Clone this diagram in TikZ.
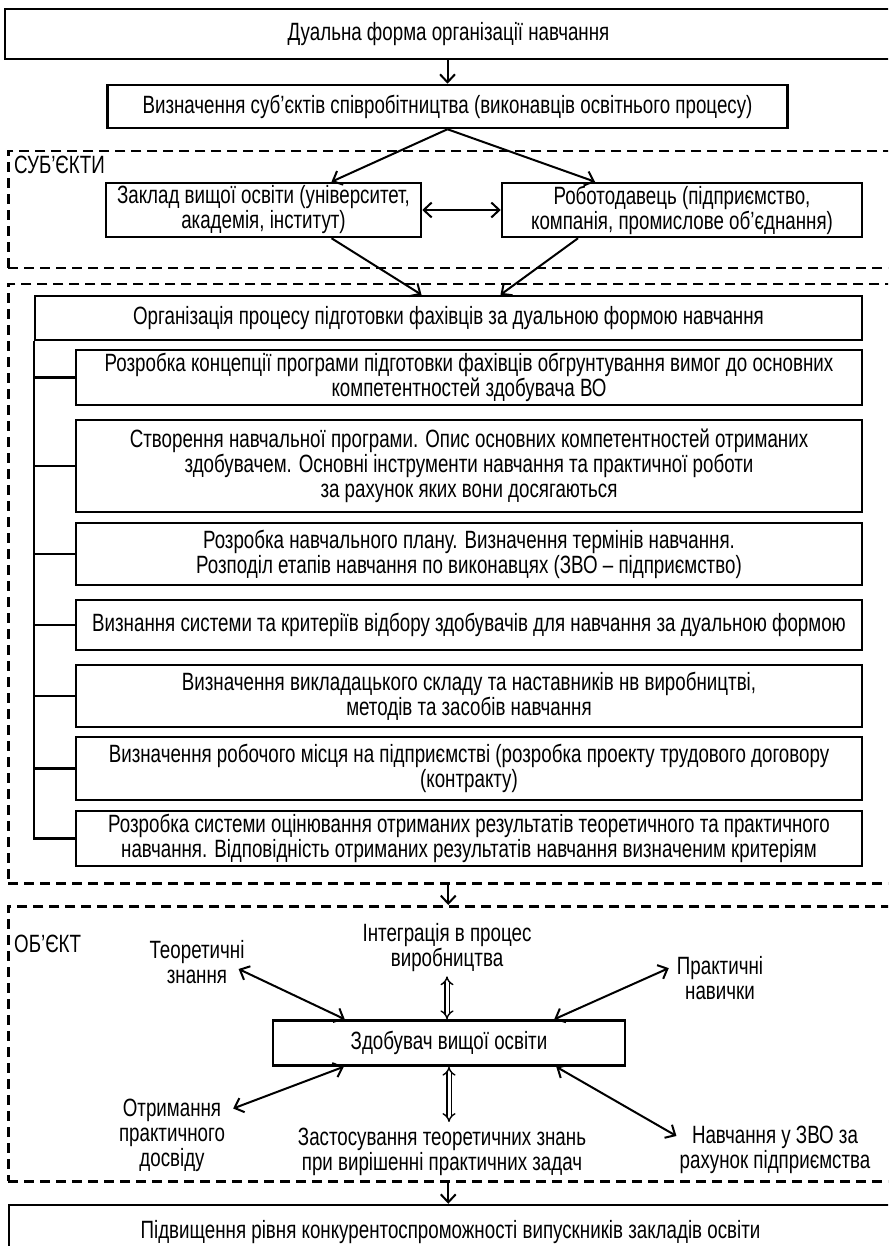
\documentclass[tikz,border=0pt]{standalone}
\usepackage{fontspec}
\setmainfont{Liberation Sans}[FakeStretch=0.75]
\usetikzlibrary{arrows.meta}
\begin{document}
\begin{tikzpicture}[x=1pt,y=-1pt,
  txt/.style={inner sep=0pt, align=center, font=\fontsize{25}{25}\selectfont},
  bx/.style={txt, draw, line width=2.5pt},
  dbox/.style={draw, line width=2.5pt, dash pattern=on 10pt off 6pt, inner sep=0pt, anchor=north west},
  arr/.style={line width=2pt, -{Straight Barb[length=8pt,width=15pt]}},
  darr/.style={line width=2pt, {Straight Barb[length=8pt,width=15pt]}-{Straight Barb[length=8pt,width=15pt]}},
  varr/.style={double, double distance=3pt, line width=1.4pt, {Implies[length=8pt]}-{Implies[length=8pt]}},
  trunk/.style={line width=2.5pt}
]
\clip (0,0) rectangle (888,1246);

% top
\node[bx, minimum width=887pt, minimum height=50pt] (top) at (448.5,34) {Дуальна форма організації навчання};
\node[bx, minimum width=680pt, minimum height=43pt] (def) at (447.5,106.5) {Визначення суб’єктів співробітництва (виконавців освітнього процесу)};
\draw[arr] (top.south -| def.north) -- (def.north);

% subjects
\node[dbox, minimum width=888pt, minimum height=117pt] (s1) at (7,150) {};
\node[txt, anchor=north west] (subjl) at (14,156) {СУБ’ЄКТИ};
\node[bx, minimum width=315pt, minimum height=54pt] (zvo) at (263.5,210) {Заклад вищої освіти (університет,\\академія, інститут)};
\node[bx, minimum width=360pt, minimum height=54pt] (emp) at (682,210) {Роботодавець (підприємство,\\компанія, промислове об’єднання)};
\draw[arr] (def.south) -- ([xshift=68pt]zvo.north);
\draw[arr] (def.south) -- ([xshift=-87pt]emp.north);
\draw[darr] (zvo.east) -- (emp.west);

% organisation
\node[dbox, minimum width=888pt, minimum height=599pt] (s2) at (7,283) {};
\node[bx, minimum width=827pt, minimum height=44pt] (org) at (448.5,318) {Організація процесу підготовки фахівців за дуальною формою навчання};
\draw[arr] ([xshift=68pt]zvo.south) -- ([xshift=-27pt]org.north);
\draw[arr] ([xshift=-104pt]emp.south) -- ([xshift=52pt]org.north);

\node[bx, minimum width=786pt, minimum height=55pt] (a) at (469,377.5) {Розробка концепції програми підготовки фахівців обгрунтування вимог до основних\\компетентностей здобувача ВО};
\node[bx, minimum width=786pt, minimum height=92pt] (b) at (469,466) {Створення навчальної програми. Опис основних компетентностей отриманих\\здобувачем. Основні інструменти навчання та практичної роботи\\за рахунок яких вони досягаються};
\node[bx, minimum width=786pt, minimum height=62pt] (c) at (469,554) {Розробка навчального плану. Визначення термінів навчання.\\Розподіл етапів навчання по виконавцях (ЗВО – підприємство)};
\node[bx, minimum width=786pt, minimum height=50pt] (d) at (469,625) {Визнання системи та критеріїв відбору здобувачів для навчання за дуальною формою};
\node[bx, minimum width=786pt, minimum height=62pt] (e) at (469,696) {Визначення викладацького складу та наставників нв виробництві,\\методів та засобів навчання};
\node[bx, minimum width=786pt, minimum height=63pt] (f) at (469,768.5) {Визначення робочого місця на підприємстві (розробка проекту трудового договору\\(контракту)};
\node[bx, minimum width=786pt, minimum height=55pt] (g) at (469,838.5) {Розробка системи оцінювання отриманих результатів теоретичного та практичного\\навчання. Відповідність отриманих результатів навчання визначеним критеріям};
\draw[trunk] (org.south west) -- (org.south west |- g.west) -- (g.west);
\foreach \n in {a,b,c,d,e,f}{\draw[trunk] (org.south west |- \n.west) -- (\n.west);}

% object
\node[dbox, minimum width=888pt, minimum height=275pt] (s3) at (7,905) {};
\draw[arr] ([xshift=-4pt]s2.south) -- ([xshift=-4pt]s3.north);
\node[txt, anchor=north west] (objl) at (14,935) {ОБ’ЄКТ};
\node[txt] (teor) at (197,962) {Теоретичні\\знання};
\node[txt] (integ) at (447,948) {Інтеграція в процес\\виробництва};
\node[txt] (prakt) at (720,978) {Практичні\\навички};
\node[bx, minimum width=352pt, minimum height=45pt] (zdob) at (449,1043) {Здобувач вищої освіти};
\node[txt] (otr) at (172,1135) {Отримання\\практичного\\досвіду};
\node[txt] (zast) at (442,1152) {Застосування теоретичних знань\\при вирішенні практичних задач};
\node[txt] (navch) at (775,1150) {Навчання у ЗВО за\\рахунок підприємства};
\draw[darr] ([xshift=-6pt,yshift=-7pt]teor.east) -- ([xshift=73pt]zdob.north west);
\draw[darr] ([xshift=-8pt,yshift=-12pt]prakt.north west) -- ([xshift=-72pt]zdob.north east);
\draw[varr] ([yshift=-4pt]integ.south) -- (integ.south |- zdob.north);
\draw[darr] ([xshift=72pt]zdob.south west) -- ([xshift=8pt,yshift=-10pt]otr.north east);
\draw[darr] ([xshift=-70pt]zdob.south east) -- ([xshift=-3pt,yshift=-10pt]navch.north west);
\draw[varr] (zdob.south) -- ([yshift=6pt]zdob.south |- zast.north);

% result
\node[bx, minimum width=883pt, minimum height=55pt] (res) at (450.5,1232.5) {Підвищення рівня конкурентоспроможності випускників закладів освіти};
\draw[arr] ([xshift=-4pt]s3.south) -- ([xshift=-4pt]s3.south |- res.north);
\end{tikzpicture}
\end{document}
